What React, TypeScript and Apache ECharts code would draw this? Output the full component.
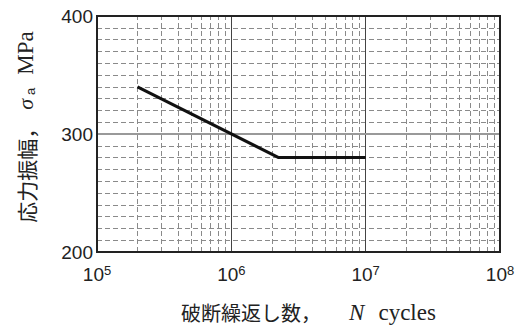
import React, { useEffect, useRef } from 'react';
import * as echarts from 'echarts';

// S-N curve (cycles to failure vs stress amplitude)
const curveCycles = [2e5, 2.25e6, 1e7];
const curveStress = [340, 280, 280];

// axis ranges / ticks
const xMin = 1e5;
const xMax = 1e8;
const yMin = 200;
const yMax = 400;
const yMajorStep = 100;
const yMinorSplit = 10;
const yMajorInner = [300];

// minor vertical grid positions (2..9 x 10^n)
const xMinorGrid = [
  2e5, 3e5, 4e5, 5e5, 6e5, 7e5, 8e5, 9e5,
  2e6, 3e6, 4e6, 5e6, 6e6, 7e6, 8e6, 9e6,
  2e7, 3e7, 4e7, 5e7, 6e7, 7e7, 8e7, 9e7,
];

const CJK = '"Noto Sans CJK JP", "Noto Sans CJK SC", sans-serif';
const SERIF = '"Liberation Serif", "DejaVu Serif", serif';
const SANS = '"Liberation Sans", Arial, sans-serif';

export default function App() {
  const ref = useRef<HTMLDivElement>(null);

  useEffect(() => {
    if (!ref.current) return;
    const chart = echarts.init(ref.current, undefined, { renderer: 'svg' });
    const option: any = {
      animation: false,
      backgroundColor: '#ffffff',
      grid: {
        left: 97,
        right: 21,
        top: 16,
        bottom: 74,
        show: true,
        borderColor: '#222',
        borderWidth: 2,
        backgroundColor: 'transparent',
        z: 10,
      },
      xAxis: {
        type: 'log',
        logBase: 10,
        min: xMin,
        max: xMax,
        name: '{cjk|破断繰返し数，}{it|N}{ser|cycles}',
        nameLocation: 'middle',
        nameGap: 49,
        nameTextStyle: {
          rich: {
            cjk: { fontFamily: CJK, fontSize: 20, color: '#222', padding: [0, 28, 0, 20] },
            it: { fontFamily: SERIF, fontStyle: 'italic', fontSize: 23, color: '#222', padding: [0, 14, 0, 0] },
            ser: { fontFamily: SERIF, fontSize: 23, color: '#222' },
          },
        },
        axisLine: { show: true, lineStyle: { color: '#222', width: 2 } },
        axisTick: { show: false },
        axisLabel: {
          margin: 12,
          formatter: (v: number) => '{b|10}{sup|' + Math.round(Math.log10(v)) + '}',
          rich: {
            b: { fontFamily: SANS, fontSize: 19, color: '#222', verticalAlign: 'bottom', lineHeight: 20 },
            sup: { fontFamily: SANS, fontSize: 13, color: '#222', verticalAlign: 'top', padding: [0, 0, 14, 0], lineHeight: 13 },
          },
        },
        splitLine: {
          show: true,
          showMinLine: false,
          showMaxLine: false,
          lineStyle: { color: '#444', width: 1 },
        },
      },
      yAxis: {
        type: 'value',
        min: yMin,
        max: yMax,
        interval: yMajorStep,
        name: '{cjk|応力振幅，}{it|σ}{sub|a}{ser|MPa}',
        nameLocation: 'middle',
        nameRotate: 90,
        nameGap: 60,
        nameTextStyle: {
          rich: {
            cjk: { fontFamily: CJK, fontSize: 21, color: '#222', padding: [0, 8, 0, 14] },
            it: { fontFamily: SERIF, fontStyle: 'italic', fontSize: 22, color: '#222' },
            sub: { fontFamily: SANS, fontSize: 13, color: '#222', padding: [10, 13, 0, 4] },
            ser: { fontFamily: SERIF, fontSize: 23, color: '#222' },
          },
        },
        axisLine: { show: true, lineStyle: { color: '#222', width: 2 } },
        axisTick: { show: false },
        axisLabel: {
          margin: 4,
          fontFamily: SANS,
          fontSize: 19,
          color: '#222',
        },
        splitLine: {
          show: false,
        },
        minorTick: { show: false, splitNumber: yMinorSplit },
        minorSplitLine: {
          show: true,
          lineStyle: { color: '#8a8a8a', width: 1, type: [5, 3] },
        },
      },
      series: [
        {
          type: 'line',
          silent: true,
          z: 1,
          data: [[xMin, yMin]],
          symbol: 'none',
          lineStyle: { opacity: 0 },
          markLine: {
            silent: true,
            symbol: ['none', 'none'],
            label: { show: false },
            lineStyle: { color: '#8a8a8a', width: 1, type: [5, 3] },
            data: xMinorGrid.map((v) => ({ xAxis: v })),
          },
        },
        {
          type: 'line',
          silent: true,
          z: 2,
          data: [[xMin, yMin]],
          symbol: 'none',
          lineStyle: { opacity: 0 },
          markLine: {
            silent: true,
            symbol: ['none', 'none'],
            label: { show: false },
            lineStyle: { color: '#999', width: 2, type: 'solid' },
            data: yMajorInner.map((v) => ({ yAxis: v })),
          },
        },
        {
          type: 'line',
          z: 5,
          data: curveCycles.map((n, i) => [n, curveStress[i]]),
          symbol: 'none',
          lineStyle: { color: '#111', width: 3 },
        },
      ],
    };
    chart.setOption(option);
    return () => chart.dispose();
  }, []);

  return (
    <div
      ref={ref}
      style={{ position: 'fixed', left: 0, top: 0, width: 521, height: 329, background: '#fff' }}
    />
  );
}
